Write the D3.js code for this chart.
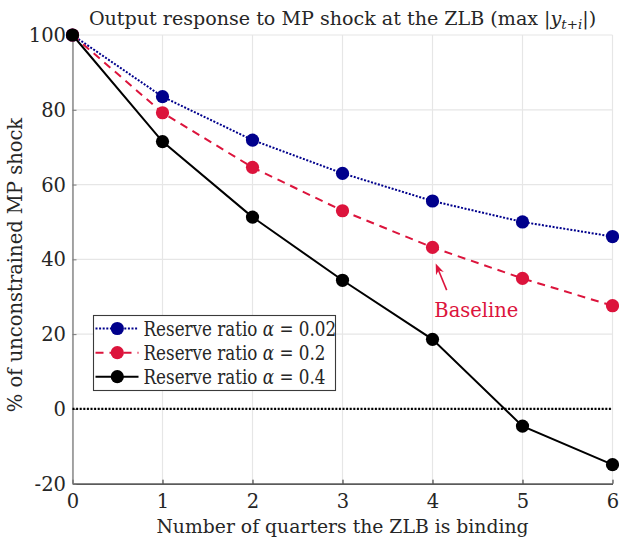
<!DOCTYPE html>
<html>
<head>
<meta charset="utf-8">
<script src="https://cdn.jsdelivr.net/npm/d3@7"></script>
<style>
  html, body { margin: 0; padding: 0; background: #fff; }
  svg { display: block; }
  text { font-family: "DejaVu Serif", serif; fill: #262626; }
</style>
</head>
<body>
<svg id="chart" width="619" height="537"></svg>
<script>
// Quarters the ZLB binds
const quarters = [0, 1, 2, 3, 4, 5, 6];

// Output response as % of the unconstrained MP shock, by reserve ratio
const alpha002 = [100, 83.5, 71.9, 63.0, 55.6, 50.0, 46.1];
const alpha02  = [100, 79.2, 64.6, 53.0, 43.2, 34.9, 27.6];
const alpha04  = [100, 71.5, 51.3, 34.4, 18.6, -4.6, -14.9];

const seriesNames  = ["0.02", "0.2", "0.4"];
const xTicks = [0, 1, 2, 3, 4, 5, 6];
const yTicks = [-20, 0, 20, 40, 60, 80, 100];

const svg = d3.select("#chart");

const x = d3.scaleLinear().domain([0, 6]).range([72.5, 612.5]);
const y = d3.scaleLinear().domain([-20, 100]).range([483.7, 35]);

const FS = 19.5;

// Grid
const grid = svg.append("g");
grid.selectAll("line.gx").data(xTicks).join("line")
  .attr("x1", d => x(d)).attr("x2", d => x(d))
  .attr("y1", y(-20)).attr("y2", y(100))
  .attr("stroke", "#e6e6e6").attr("stroke-width", 1.2);
grid.selectAll("line.gy").data(yTicks).join("line")
  .attr("x1", x(0)).attr("x2", x(6))
  .attr("y1", d => y(d)).attr("y2", d => y(d))
  .attr("stroke", "#e6e6e6").attr("stroke-width", 1.2);

// Axes
const xAxis = d3.axisBottom(x).tickValues(xTicks).tickSizeInner(-4).tickSizeOuter(0).tickPadding(14)
  .tickFormat(d3.format("d"));
const gx = svg.append("g").attr("transform", `translate(0,${y(-20)})`).call(xAxis);
gx.select(".domain").attr("stroke", "#262626").attr("stroke-width", 1.3);
gx.selectAll(".tick line").attr("stroke", "#262626");
gx.selectAll(".tick text").attr("font-size", FS)
  .attr("fill", "#262626").attr("dy", "0.71em").attr("y", 10);

const yAxis = d3.axisLeft(y).tickValues(yTicks).tickSizeInner(-4).tickSizeOuter(0).tickPadding(7)
  .tickFormat(d => d < 0 ? "-" + Math.abs(d) : String(d));
const gy = svg.append("g").attr("transform", `translate(${x(0)},0)`).call(yAxis);
gy.select(".domain").attr("stroke", "#7a7a7a").attr("stroke-width", 1.3);
gy.selectAll(".tick line").attr("stroke", "#7a7a7a");
gy.selectAll(".tick text").attr("font-size", FS)
  .attr("fill", "#262626").attr("x", -6.5).attr("dy", "0.34em");

// Zero reference line
svg.append("line")
  .attr("x1", x(0)).attr("x2", x(6)).attr("y1", y(0)).attr("y2", y(0))
  .attr("stroke", "#000").attr("stroke-width", 2.2).attr("stroke-dasharray", "2,1.6");

// Series
const series = [
  { vals: alpha002, color: "#00008c", dash: "2,1.6", name: seriesNames[0] },
  { vals: alpha02,  color: "#dc143c", dash: "8,6",   name: seriesNames[1] },
  { vals: alpha04,  color: "#000000", dash: null,    name: seriesNames[2] }
];

const line = d3.line().x((d, i) => x(quarters[i])).y(d => y(d));
const R = 6.6;

series.forEach(s => {
  svg.append("path").datum(s.vals)
    .attr("d", line).attr("fill", "none")
    .attr("stroke", s.color).attr("stroke-width", 2)
    .attr("stroke-dasharray", s.dash);
  svg.append("g").selectAll("circle").data(s.vals).join("circle")
    .attr("cx", (d, i) => x(quarters[i])).attr("cy", d => y(d))
    .attr("r", R).attr("fill", s.color);
});

// "Baseline" annotation pointing at alpha = 0.2, 4 quarters
const annX = 4, annY = alpha02[quarters.indexOf(annX)];
const px = x(annX), py = y(annY);
const tip = [px + 3.2, py + 16], tail = [px + 14.2, py + 42.7];
const dx = tip[0] - tail[0], dy = tip[1] - tail[1];
const L = Math.hypot(dx, dy), ux = dx / L, uy = dy / L, nx = -uy, ny = ux;
svg.append("line")
  .attr("x1", tail[0]).attr("y1", tail[1])
  .attr("x2", tip[0] - ux * 6).attr("y2", tip[1] - uy * 6)
  .attr("stroke", "#dc143c").attr("stroke-width", 1.6);
const hl = 11, hw = 4.2;
svg.append("path")
  .attr("d", `M${tip[0]},${tip[1]}
    L${tip[0] - ux * hl + nx * hw},${tip[1] - uy * hl + ny * hw}
    L${tip[0] - ux * hl * 0.7},${tip[1] - uy * hl * 0.7}
    L${tip[0] - ux * hl - nx * hw},${tip[1] - uy * hl - ny * hw}Z`)
  .attr("fill", "#dc143c");
svg.append("text")
  .attr("x", px + 1.8).attr("y", py + 69.4)
  .attr("font-size", FS).style("fill", "#dc143c")
  .text("Baseline");

// Legend
const leg = svg.append("g");
leg.append("rect")
  .attr("x", 93.5).attr("y", 315.5).attr("width", 242).attr("height", 75)
  .attr("fill", "#fff").attr("stroke", "#3a3a3a").attr("stroke-width", 1.1);
const rowY = [328.5, 352.7, 376.7];
series.forEach((s, i) => {
  const ry = rowY[i];
  leg.append("line")
    .attr("x1", 95.5).attr("x2", 138.5).attr("y1", ry).attr("y2", ry)
    .attr("stroke", s.color).attr("stroke-width", 2)
    .attr("stroke-dasharray", s.dash);
  leg.append("circle").attr("cx", 117.3).attr("cy", ry).attr("r", R).attr("fill", s.color);
  // DejaVu Serif runs wide, so the entries are condensed horizontally
  const t = leg.append("text")
    .attr("transform", `translate(143.5,${ry}) scale(0.86,1)`)
    .attr("dy", "0.36em")
    .attr("font-size", FS);
  t.append("tspan").text("Reserve ratio ");
  t.append("tspan").attr("font-style", "italic").text("α");
  t.append("tspan").text(" = " + s.name);
});

// Title
const title = svg.append("text")
  .attr("x", x(3)).attr("y", 24.5).attr("text-anchor", "middle")
  .attr("font-size", 19.1);
title.append("tspan").text("Output response to MP shock at the ZLB (max |");
title.append("tspan").attr("font-style", "italic").text("y");
title.append("tspan").attr("font-style", "italic").attr("font-size", 19.1 * 0.7).attr("dy", 4).text("t+i");
title.append("tspan").attr("dy", -4).text("|)");

// Axis labels
svg.append("text")
  .attr("x", x(3)).attr("y", 533).attr("text-anchor", "middle")
  .attr("font-size", 18.8)
  .text("Number of quarters the ZLB is binding");

svg.append("text")
  .attr("transform", "translate(22,265) rotate(-90)")
  .attr("text-anchor", "middle")
  .attr("font-size", FS)
  .text("% of unconstrained MP shock");
</script>
</body>
</html>
